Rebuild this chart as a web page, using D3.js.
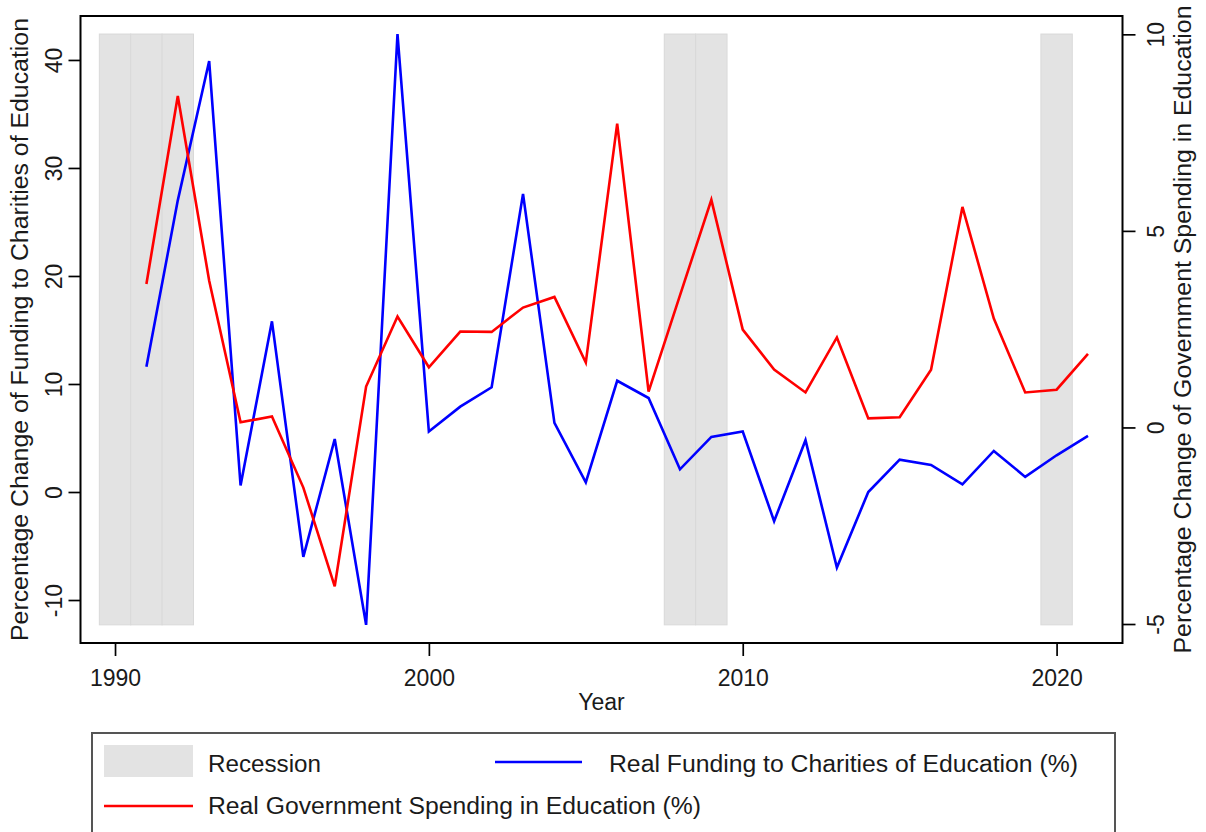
<!DOCTYPE html>
<html>
<head>
<meta charset="utf-8">
<script src="https://cdn.jsdelivr.net/npm/d3@7"></script>
<style>
  html, body { margin: 0; padding: 0; background: #ffffff; }
  svg { display: block; }
  text { font-family: "Liberation Sans", Arial, sans-serif; fill: #1a1a1a; }
</style>
</head>
<body>
<svg id="chart" width="1206" height="832"></svg>
<script>
// Annual percentage changes, 1991-2021
const years = d3.range(1991, 2022);
const charityFunding = [11.6, 27.0, 39.9, 0.6, 15.8, -6.0, 4.9, -12.3, 42.4, 5.6,
  7.9, 9.7, 27.6, 6.4, 0.9, 10.3, 8.7, 2.1, 5.1, 5.6,
  -2.7, 4.8, -7.0, 0.0, 3.0, 2.5, 0.7, 3.8, 1.4, 3.4, 5.2];
const govSpending = [3.65, 8.43, 3.73, 0.13, 0.28, -1.53, -4.04, 1.04, 2.82, 1.53,
  2.44, 2.43, 3.05, 3.32, 1.65, 7.73, 0.91, 3.36, 5.79, 2.49,
  1.47, 0.89, 2.29, 0.23, 0.26, 1.47, 5.61, 2.77, 0.89, 0.96, 1.87];
const recessionYears = [1990, 1991, 1992, 2008, 2009, 2020];

const xTicks = [1990, 2000, 2010, 2020];
const leftTicks = [-10, 0, 10, 20, 30, 40];
const rightTicks = [-5, 0, 5, 10];

const leftTitle = "Percentage Change of Funding to Charities of Education";
const rightTitle = "Percentage Change of Government Spending in Education";
const xTitle = "Year";
const legendItems = {
  recession: "Recession",
  charity: "Real Funding to Charities of Education (%)",
  gov: "Real Government Spending in Education (%)"
};

const svg = d3.select("#chart");
const plot = { left: 80.5, right: 1122.5, top: 16, bottom: 643 };

const x = d3.scaleLinear().domain([1988.9, 2022.1]).range([plot.left, plot.right]);
const yL = d3.scaleLinear().domain([-13.98, 44.07]).range([plot.bottom, plot.top]);
const yR = d3.scaleLinear().domain([-5.483, 10.466]).range([plot.bottom, plot.top]);

// Plain hyphen for negative tick values
const plainFormat = d => String(d);

// Recession shading, one band per year spanning the funding series' range
const bandTop = yL(d3.max(charityFunding));
const bandBottom = yL(d3.min(charityFunding));
svg.append("g").selectAll("rect")
  .data(recessionYears)
  .join("rect")
  .attr("x", d => x(d - 0.5))
  .attr("width", d => x(d + 0.5) - x(d - 0.5))
  .attr("y", bandTop)
  .attr("height", bandBottom - bandTop)
  .attr("fill", "#e3e3e3")
  .attr("stroke", "#d9d9d9")
  .attr("stroke-width", 1);

// Series lines
const lineL = d3.line().x((d, i) => x(years[i])).y(d => yL(d));
const lineR = d3.line().x((d, i) => x(years[i])).y(d => yR(d));

svg.append("path")
  .datum(charityFunding)
  .attr("d", lineL)
  .attr("fill", "none")
  .attr("stroke", "#0000ff")
  .attr("stroke-width", 2.6);

svg.append("path")
  .datum(govSpending)
  .attr("d", lineR)
  .attr("fill", "none")
  .attr("stroke", "#ff0000")
  .attr("stroke-width", 2.6);

// Plot frame
svg.append("rect")
  .attr("x", plot.left).attr("y", plot.top)
  .attr("width", plot.right - plot.left)
  .attr("height", plot.bottom - plot.top)
  .attr("fill", "none")
  .attr("stroke", "#000")
  .attr("stroke-width", 2);

// Axes
const fontSize = 23;
const xAxis = svg.append("g")
  .attr("transform", `translate(0,${plot.bottom})`)
  .call(d3.axisBottom(x).tickValues(xTicks).tickFormat(plainFormat).tickSize(13));
const leftAxis = svg.append("g")
  .attr("transform", `translate(${plot.left},0)`)
  .call(d3.axisLeft(yL).tickValues(leftTicks).tickFormat(plainFormat).tickSize(12));
const rightAxis = svg.append("g")
  .attr("transform", `translate(${plot.right},0)`)
  .call(d3.axisRight(yR).tickValues(rightTicks).tickFormat(plainFormat).tickSize(13));

[xAxis, leftAxis, rightAxis].forEach(g => {
  g.select(".domain").remove();
  g.selectAll(".tick line").attr("stroke", "#000").attr("stroke-width", 1.7);
  g.selectAll(".tick text")
    .attr("font-size", fontSize)
    .attr("font-family", "Liberation Sans, Arial, sans-serif")
    .attr("fill", "#1a1a1a");
});

xAxis.selectAll(".tick text").attr("dy", null).attr("y", 43);

// Vertical axes read bottom-to-top
leftAxis.selectAll(".tick text")
  .attr("x", null).attr("dy", null)
  .attr("text-anchor", "middle")
  .attr("transform", `translate(${62 - plot.left},0) rotate(-90)`);
rightAxis.selectAll(".tick text")
  .attr("x", null).attr("dy", null)
  .attr("text-anchor", "middle")
  .attr("transform", `translate(${1164 - plot.right},0) rotate(-90)`);

// Axis titles
const midY = (plot.top + plot.bottom) / 2;
svg.append("text")
  .attr("transform", `translate(28,${midY}) rotate(-90)`)
  .attr("text-anchor", "middle")
  .attr("font-size", fontSize)
  .attr("textLength", 623)
  .attr("lengthAdjust", "spacingAndGlyphs")
  .text(leftTitle);
svg.append("text")
  .attr("transform", `translate(1191,${midY}) rotate(-90)`)
  .attr("text-anchor", "middle")
  .attr("font-size", fontSize)
  .attr("textLength", 648)
  .attr("lengthAdjust", "spacingAndGlyphs")
  .text(rightTitle);
svg.append("text")
  .attr("x", (plot.left + plot.right) / 2)
  .attr("y", 710)
  .attr("text-anchor", "middle")
  .attr("font-size", fontSize)
  .text(xTitle);

// Legend
const legend = svg.append("g");
legend.append("rect")
  .attr("x", 92).attr("y", 733)
  .attr("width", 1023).attr("height", 110)
  .attr("fill", "#fff")
  .attr("stroke", "#555")
  .attr("stroke-width", 2);
legend.append("rect")
  .attr("x", 104).attr("y", 745)
  .attr("width", 89).attr("height", 32)
  .attr("fill", "#e3e3e3");
legend.append("text")
  .attr("x", 208).attr("y", 772)
  .attr("font-size", 23)
  .attr("textLength", 113)
  .attr("lengthAdjust", "spacingAndGlyphs")
  .text(legendItems.recession);
legend.append("line")
  .attr("x1", 495).attr("x2", 582)
  .attr("y1", 762).attr("y2", 762)
  .attr("stroke", "#0000ff").attr("stroke-width", 2.6);
legend.append("text")
  .attr("x", 609).attr("y", 772)
  .attr("font-size", 23)
  .attr("textLength", 469)
  .attr("lengthAdjust", "spacingAndGlyphs")
  .text(legendItems.charity);
legend.append("line")
  .attr("x1", 104).attr("x2", 193)
  .attr("y1", 806).attr("y2", 806)
  .attr("stroke", "#ff0000").attr("stroke-width", 2.6);
legend.append("text")
  .attr("x", 208).attr("y", 814)
  .attr("font-size", 23)
  .attr("textLength", 493)
  .attr("lengthAdjust", "spacingAndGlyphs")
  .text(legendItems.gov);
</script>
</body>
</html>
